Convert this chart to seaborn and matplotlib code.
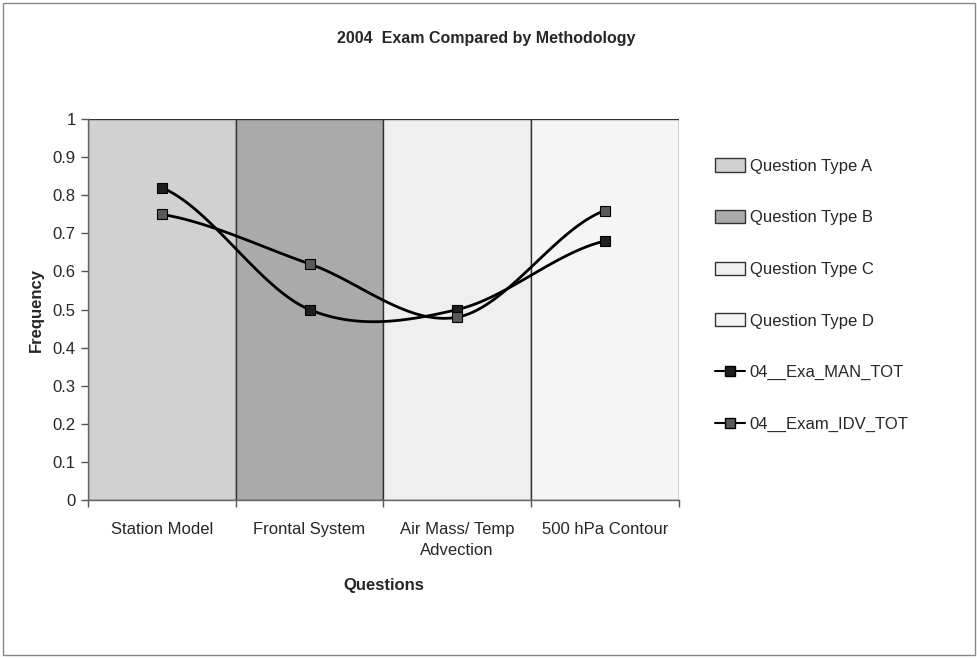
import numpy as np
import pandas as pd
import matplotlib
matplotlib.use("Agg")
import matplotlib.pyplot as plt
from matplotlib.patches import Rectangle
from matplotlib.lines import Line2D
import seaborn as sns

questions = ["Station Model", "Frontal System", "Air Mass/ Temp\nAdvection", "500 hPa Contour"]
question_types = ["Question Type A", "Question Type B", "Question Type C", "Question Type D"]
type_heights = [1.0, 1.0, 1.0, 1.0]
type_colors = ["#d1d1d1", "#aaaaaa", "#efefef", "#f5f5f5"]

man_tot = [0.82, 0.50, 0.50, 0.68]
idv_tot = [0.75, 0.62, 0.48, 0.76]
y_ticks = [0, 0.1, 0.2, 0.3, 0.4, 0.5, 0.6, 0.7, 0.8, 0.9, 1]
y_tick_labels = ["0", "0.1", "0.2", "0.3", "0.4", "0.5", "0.6", "0.7", "0.8", "0.9", "1"]


def smooth(y, n=40):
    # Excel-style smoothed line (Catmull-Rom through the points)
    y = np.asarray(y, dtype=float)
    pts = np.concatenate([[y[0]], y, [y[-1]]])
    xs, ys = [], []
    for i in range(len(y) - 1):
        p0, p1, p2, p3 = pts[i], pts[i + 1], pts[i + 2], pts[i + 3]
        t = np.linspace(0, 1, n)
        c = 0.5 * (2 * p1 + (-p0 + p2) * t + (2 * p0 - 5 * p1 + 4 * p2 - p3) * t ** 2
                   + (-p0 + 3 * p1 - 3 * p2 + p3) * t ** 3)
        xs.append(i + t)
        ys.append(c)
    return np.concatenate(xs), np.concatenate(ys)


sns.set_theme(style="white")
plt.rcParams["font.family"] = ["Liberation Sans", "DejaVu Sans"]

fig = plt.figure(figsize=(9.78, 6.58), dpi=100)
ax = fig.add_axes([0.090, 0.240, 0.604, 0.579])

bars_df = pd.DataFrame({"Question": questions, "Height": type_heights, "Type": question_types})
sns.barplot(data=bars_df, x="Question", y="Height", hue="Type", palette=type_colors,
            width=1.0, dodge=False, edgecolor="#333333", linewidth=1.0, legend=False, ax=ax)

for vals, mcolor in [(man_tot, "#1e1e1e"), (idv_tot, "#5a5a5a")]:
    sx, sy = smooth(vals)
    sns.lineplot(x=sx, y=sy, sort=False, color="black", linewidth=2.0, ax=ax)
    ax.plot(range(len(vals)), vals, linestyle="none", marker="s", markersize=7.5,
            markerfacecolor=mcolor, markeredgecolor="black", markeredgewidth=0.8)

ax.set_xlim(-0.5, 3.5)
ax.set_ylim(0, 1)
ax.set_yticks(y_ticks)
ax.set_yticklabels(y_tick_labels, fontsize=12)
ax.set_xticks(range(len(questions)))
ax.set_xticklabels(questions, fontsize=12, linespacing=1.5)
ax.set_xticks([-0.5, 0.5, 1.5, 2.5, 3.5], minor=True)
ax.tick_params(axis="x", which="major", length=0, pad=16)
ax.tick_params(axis="x", which="minor", length=5, width=1, color="#555555", direction="out", bottom=True)
ax.tick_params(axis="y", length=5, width=1, color="#555555", direction="out", left=True, pad=4)

for s in ["top", "right"]:
    ax.spines[s].set_visible(False)
for s in ["left", "bottom"]:
    ax.spines[s].set_color("#666666")
    ax.spines[s].set_linewidth(1.0)

ax.set_xlabel("Questions", fontsize=12, fontweight="bold", labelpad=14)
ax.set_ylabel("Frequency", fontsize=12, fontweight="bold", labelpad=6)

fig.text(0.497, 0.942, "2004  Exam Compared by Methodology", ha="center", va="center",
         fontsize=11.5, fontweight="bold")

handles = [Rectangle((0, 0), 1, 1, facecolor=c, edgecolor="#333333", linewidth=1.0) for c in type_colors]
handles.append(Line2D([], [], color="black", linewidth=1.5, marker="s", markersize=6.5,
                      markerfacecolor="#1e1e1e", markeredgecolor="black"))
handles.append(Line2D([], [], color="black", linewidth=1.5, marker="s", markersize=6.5,
                      markerfacecolor="#5a5a5a", markeredgecolor="black"))
labels = question_types + ["04__Exa_MAN_TOT", "04__Exam_IDV_TOT"]
fig.legend(handles, labels, loc="upper left", bbox_to_anchor=(0.723, 0.772), frameon=False,
           fontsize=12, labelspacing=2.17, handlelength=1.75, handleheight=0.85,
           handletextpad=0.3, borderpad=0)

fig.patches.append(Rectangle((0.003, 0.004), 0.994, 0.992, transform=fig.transFigure,
                             fill=False, edgecolor="#888888", linewidth=1.0))

fig.savefig("out.png", dpi=100)
